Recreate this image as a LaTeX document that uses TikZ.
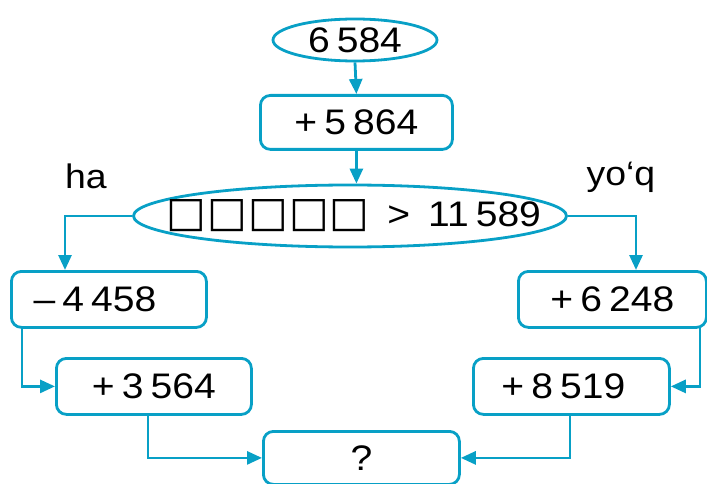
\documentclass[tikz,border=0pt]{standalone}
\usepackage{fontspec}
\setmainfont[FakeStretch=1.1]{Liberation Sans}
\newfontfamily\symfont{DejaVu Sans}
\usetikzlibrary{arrows.meta,shapes.geometric}
\definecolor{flow}{RGB}{8,160,198}
\newcommand{\gap}{\kern0.2em}
\tikzset{
  every node/.style={font=\fontsize{35.5}{40}\selectfont, text=black},
  box/.style={draw=flow, line width=2.8pt, rounded corners=10pt, inner sep=0pt, anchor=north west},
  oval/.style={draw=flow, line width=2.8pt, ellipse, inner sep=0pt},
  conn/.style={draw=flow, line width=2.8pt, -{Triangle[length=15pt,width=13pt]}},
  lab/.style={font=\fontsize{34}{38}\selectfont}
}
\begin{document}
\begin{tikzpicture}[x=1pt,y=-1pt]
\useasboundingbox (0,0) rectangle (707,484);
\node[oval, minimum width=164pt, minimum height=42pt] (top) at (355,40) {};
\node at (top.center) {6\gap584};
\node[box, minimum width=192pt, minimum height=54pt] (b1) at (259,94) {};
\node at (b1.center) {+\gap5\gap864};
\node[oval, minimum width=433pt, minimum height=62pt] (cond) at (350,216) {};
\node at ([xshift=4pt]cond.center) {{\symfont\fontsize{42}{44}\selectfont □\kern1pt□\kern1pt□\kern1pt□\kern1pt□}\hspace{18pt}>\hspace{18pt}11\gap589};
\node[box, minimum width=195pt, minimum height=56pt] (l1) at (10,270) {};
\node at ([xshift=-14pt]l1.center) {–\gap4\gap458};
\node[box, minimum width=195pt, minimum height=56pt] (l2) at (55,357) {};
\node at (l2.center) {+\gap3\gap564};
\node[box, minimum width=188pt, minimum height=56pt] (r1) at (517,270) {};
\node at (r1.center) {+\gap6\gap248};
\node[box, minimum width=196pt, minimum height=56pt] (r2) at (472,357) {};
\node at ([xshift=-8pt]r2.center) {+\gap8\gap519};
\node[box, minimum width=196pt, minimum height=53pt] (q) at (262,430) {};
\node at (q.center) {?};
\node[lab] (ha) at (86,176) {ha};
\node[lab] (yoq) at (621,177) {yo‘q};
\draw[conn] (top.south) -- (b1.north);
\draw[conn] (b1.south) -- (b1.south |- cond.north);
\draw[conn] (cond.west) -| (65,270);
\draw[conn] (cond.east) -| (636,270);
\draw[conn] (22,326) |- (l2.west);
\draw[conn] (700,326) |- (r2.east);
\draw[conn] (148,413) |- (q.west);
\draw[conn] (570,413) |- (q.east);
\end{tikzpicture}
\end{document}
